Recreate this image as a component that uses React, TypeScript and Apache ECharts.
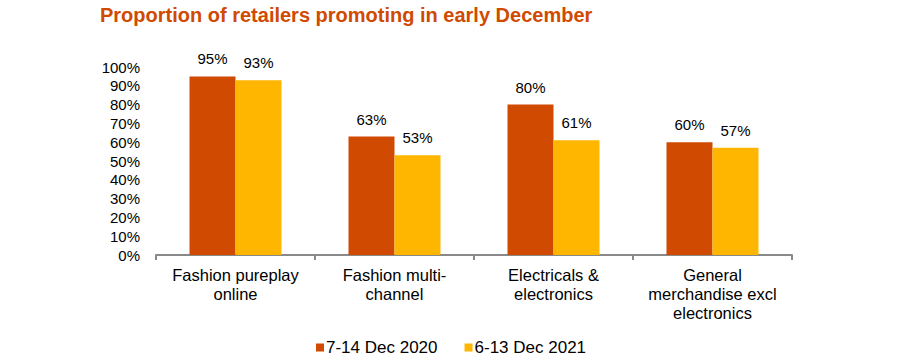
import React, { useEffect, useRef } from "react";
import * as echarts from "echarts";

const categories = [
  "Fashion pureplay\nonline",
  "Fashion multi-\nchannel",
  "Electricals &\nelectronics",
  "General\nmerchandise excl\nelectronics",
];
const series2020 = [95, 63, 80, 60];
const series2021 = [93, 53, 61, 57];
const seriesNames = ["7-14 Dec 2020", "6-13 Dec 2021"];
const yTicks = [0, 100, 10];

const FONT = "Liberation Sans, Arial, sans-serif";

export default function App() {
  const ref = useRef<HTMLDivElement>(null);
  useEffect(() => {
    if (!ref.current) return;
    const chart = echarts.init(ref.current, undefined, { renderer: "svg" });
    const label = {
      show: true,
      position: "top" as const,
      distance: 10,
      formatter: "{c}%",
      color: "#000",
      fontSize: 15,
      fontFamily: FONT,
    };
    chart.setOption({
      animation: false,
      textStyle: { fontFamily: FONT },
      title: {
        text: "Proportion of retailers promoting in early December",
        left: 95,
        top: 0,
        textStyle: { color: "#D04A02", fontSize: 20, fontWeight: "bold", fontFamily: FONT },
      },
      grid: { left: 156, right: 108, top: 67, bottom: 108 },
      legend: {
        bottom: 2,
        left: 311,
        itemWidth: 8,
        itemHeight: 8,
        itemGap: 27,
        icon: "rect",
        textStyle: { fontSize: 17, color: "#000", fontFamily: FONT, padding: [0, 0, 0, -3] },
      },
      xAxis: {
        type: "category",
        data: categories,
        axisLine: { lineStyle: { color: "#898989", width: 2 } },
        axisTick: { show: true, length: 5, lineStyle: { color: "#898989", width: 2 } },
        axisLabel: { color: "#000", fontSize: 16.5, lineHeight: 19, margin: 10, interval: 0, fontFamily: FONT },
      },
      yAxis: {
        type: "value",
        min: yTicks[0],
        max: yTicks[1],
        interval: yTicks[2],
        axisLine: { show: false },
        axisTick: { show: false },
        splitLine: { show: false },
        axisLabel: { color: "#000", fontSize: 15, formatter: "{value}%", margin: 16, fontFamily: FONT },
      },
      series: [
        {
          name: seriesNames[0],
          type: "bar",
          data: series2020,
          barWidth: 46,
          barGap: "0%",
          itemStyle: { color: "#D04A02" },
          label,
        },
        {
          name: seriesNames[1],
          type: "bar",
          data: series2021,
          barWidth: 46,
          barGap: "0%",
          itemStyle: { color: "#FFB600" },
          label,
        },
      ],
    });
    return () => chart.dispose();
  }, []);
  return (
    <div
      ref={ref}
      style={{ position: "absolute", left: 0, top: 0, width: 900, height: 363 }}
    />
  );
}
